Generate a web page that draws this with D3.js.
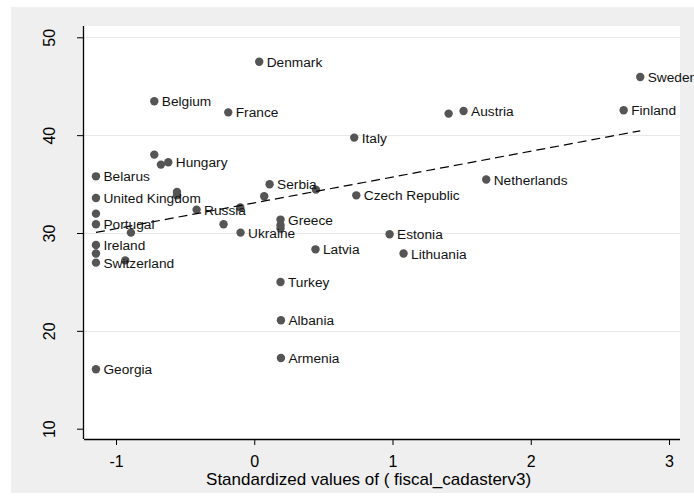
<!DOCTYPE html>
<html>
<head>
<meta charset="utf-8">
<script src="https://cdn.jsdelivr.net/npm/d3@7"></script>
<style>
  html, body { margin: 0; padding: 0; background: #ffffff; }
  svg { display: block; }
  text { font-family: "Liberation Sans", Arial, sans-serif; }
</style>
</head>
<body>
<svg id="chart" width="694" height="503"></svg>
<script>
// ---- data ----
const countries = ["Denmark","Belgium","France","Sweden","Austria","","Finland","Italy","Netherlands",
  "Czech Republic","Serbia","","","Greece","","","Ukraine","","Russia","","Estonia","Lithuania","Latvia",
  "Turkey","Albania","Armenia","Georgia","Belarus","United Kingdom","","Portugal","Ireland","","Switzerland",
  "","","","","Hungary","",""];
const fiscalCadaster = [0.036,-0.723,-0.188,2.792,1.514,1.406,2.672,0.723,1.678,
  0.738,0.111,0.072,0.446,0.19,0.19,0.19,-0.099,-0.222,-0.417,-0.101,0.979,1.08,0.443,
  0.19,0.193,0.193,-1.145,-1.145,-1.145,-1.145,-1.145,-1.145,-1.145,-1.145,
  -0.892,-0.933,-0.723,-0.675,-0.622,-0.559,-0.559];
const outcome = [47.5,43.46,42.33,45.94,42.47,42.2,42.54,39.75,35.46,
  33.85,34.98,33.75,34.43,31.37,30.79,30.45,30.04,30.89,32.39,32.6,29.87,27.9,28.33,
  24.99,21.08,17.23,16.07,35.79,33.58,31.98,30.89,28.77,27.9,26.97,
  30.04,27.2,38.01,36.99,37.23,34.2,33.85];
const xTicks = [-1, 0, 1, 2, 3];
const yTicks = [10, 20, 30, 40, 50];
const gridTicks = [20, 30, 40, 50];
const xTitle = "Standardized values of ( fiscal_cadasterv3)";

// ---- layout ----
const svg = d3.select("#chart");
const plot = { left: 84, right: 680, top: 26, bottom: 439 };

const x = d3.scaleLinear().domain([-1, 3]).range([116, 669]);
const y = d3.scaleLinear().domain([10, 50]).range([428.7, 37.3]);

// outer graph region
svg.append("rect").attr("x", 11).attr("y", 7).attr("width", 700).attr("height", 486)
  .attr("fill", "#efefef");
// plot region
svg.append("rect").attr("x", plot.left).attr("y", plot.top)
  .attr("width", plot.right - plot.left).attr("height", plot.bottom - plot.top)
  .attr("fill", "#ffffff");

// gridlines
svg.append("g").selectAll("line").data(gridTicks).join("line")
  .attr("x1", plot.left).attr("x2", plot.right)
  .attr("y1", d => Math.round(y(d)) + 0.5).attr("y2", d => Math.round(y(d)) + 0.5)
  .attr("stroke", "#e8e8e8").attr("stroke-width", 1);

const data = countries.map((c, i) => ({ name: c, x: fiscalCadaster[i], y: outcome[i] }));

// linear fit (OLS)
const mx = d3.mean(data, d => d.x), my = d3.mean(data, d => d.y);
const sxy = d3.sum(data, d => (d.x - mx) * (d.y - my));
const sxx = d3.sum(data, d => (d.x - mx) * (d.x - mx));
const slope = sxy / sxx, intercept = my - slope * mx;
const xExt = d3.extent(data, d => d.x);
const fit = xExt.map(v => ({ x: v, y: intercept + slope * v }));

// points
svg.append("g").selectAll("circle").data(data).join("circle")
  .attr("cx", d => x(d.x)).attr("cy", d => y(d.y)).attr("r", 4.2)
  .attr("fill", "#555555");

// fit line
svg.append("path").datum(fit)
  .attr("d", d3.line().x(d => x(d.x)).y(d => y(d.y)))
  .attr("fill", "none").attr("stroke", "#000").attr("stroke-width", 1.2)
  .attr("stroke-dasharray", "9,5");

// labels
svg.append("g").selectAll("text").data(data.filter(d => d.name)).join("text")
  .attr("x", d => x(d.x) + 7.5).attr("y", d => y(d.y) + 5)
  .attr("font-size", "13.7px").attr("fill", "#111")
  .text(d => d.name);

// axes
const xAxis = d3.axisBottom(x).tickValues(xTicks).tickSize(6).tickPadding(11)
  .tickFormat(d3.format("d"));
const gx = svg.append("g").attr("transform", `translate(0,${plot.bottom})`).call(xAxis);
gx.select(".domain").attr("d", `M${plot.left},0.5H${plot.right}`).attr("stroke", "#000").attr("stroke-width", 1.3);
gx.selectAll(".tick line").attr("stroke", "#000");
gx.selectAll(".tick text").attr("font-size", "16px").attr("fill", "#000")
  .attr("font-family", "Liberation Sans, Arial, sans-serif")
  .text(d => d < 0 ? "-" + Math.abs(d) : d);

const yAxis = d3.axisLeft(y).tickValues(yTicks).tickSize(7).tickFormat(d3.format("d"));
const gy = svg.append("g").attr("transform", `translate(${plot.left},0)`).call(yAxis);
gy.select(".domain").attr("d", `M-0.5,${plot.top}V${plot.bottom}`).attr("stroke", "#000").attr("stroke-width", 1.3);
gy.selectAll(".tick line").attr("stroke", "#000");
gy.selectAll(".tick text")
  .attr("font-size", "16px").attr("fill", "#000")
  .attr("font-family", "Liberation Sans, Arial, sans-serif")
  .attr("x", null).attr("dy", null)
  .attr("text-anchor", "middle")
  .attr("transform", "translate(-29,0) rotate(-90)");

// x title
svg.append("text").attr("x", 368.6).attr("y", 485)
  .attr("text-anchor", "middle").attr("font-size", "17px").attr("fill", "#000")
  .text(xTitle);
</script>
</body>
</html>
